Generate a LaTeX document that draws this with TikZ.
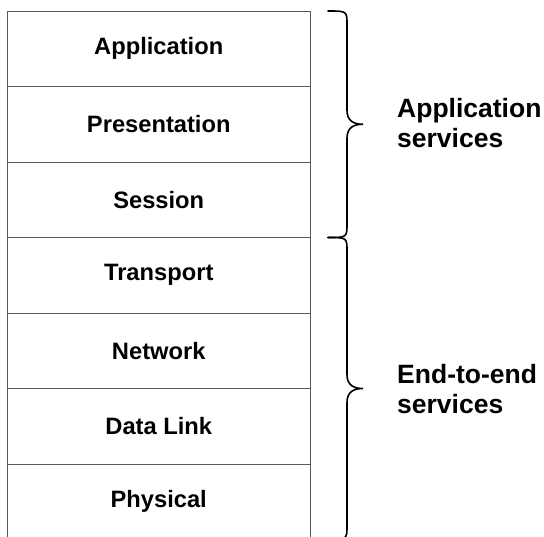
\documentclass[tikz,border=0pt]{standalone}
\usepackage{fontspec}
\setmainfont{Liberation Sans}
\usetikzlibrary{calc}
\tikzset{
	layer/.style={draw=black!65, line width=1pt, minimum width=302.5pt, minimum height=75.5pt, inner sep=0pt, font=\fontsize{23.7}{28}\selectfont\bfseries},
	svc/.style={anchor=west, inner sep=0pt, align=left, font=\fontsize{26.5}{30}\selectfont\bfseries},
	curly/.style={line width=1.6pt, line cap=round}
}
\def\rightbrace(#1)(#2){\draw[curly] (#1) .. controls ($(#1)+(19,0)$) .. ($(#1)+(19,14)$) -- ($($(#1)!0.5!(#2)$)+(19,-14)$) .. controls ($($(#1)!0.5!(#2)$)+(19,-3)$) and ($($(#1)!0.5!(#2)$)+(26,0)$) .. ($($(#1)!0.5!(#2)$)+(35,0)$) .. controls ($($(#1)!0.5!(#2)$)+(26,0)$) and ($($(#1)!0.5!(#2)$)+(19,3)$) .. ($($(#1)!0.5!(#2)$)+(19,14)$) -- ($(#2)+(19,-14)$) .. controls ($(#2)+(19,0)$) .. (#2);}

\begin{document}
\begin{tikzpicture}[x=1pt, y=-1pt]
		%%%%% START %%%%%
		\useasboundingbox (0, 0) rectangle (544, 536);
		
		\node[layer] (app) at (158.75, 48.75) {Application};
		\node[layer] (pres) at (158.75, 124.25) {Presentation};
		\node[layer] (sess) at (158.75, 199.75) {Session};
		\node[layer] (trans) at (158.75, 275.25) {Transport};
		\node[layer] (net) at (158.75, 350.75) {Network};
		\node[layer] (dlink) at (158.75, 426.25) {Data Link};
		\node[layer] (phys) at (158.75, 501.75) {Physical};
		
		\coordinate (topend) at (328, 11);
		\coordinate (midend) at (328, 237.5);
		\coordinate (lowend) at (328, 539.5);
		\rightbrace(topend)(midend)
		\rightbrace(midend)(lowend)
		
		\node[svc] (appsvc) at (397, 123.5) {Application\\services};
		\node[svc] (e2esvc) at (397, 389) {End-to-end\\services};
		
		%%%%% END %%%%%
	\end{tikzpicture}
\end{document}
